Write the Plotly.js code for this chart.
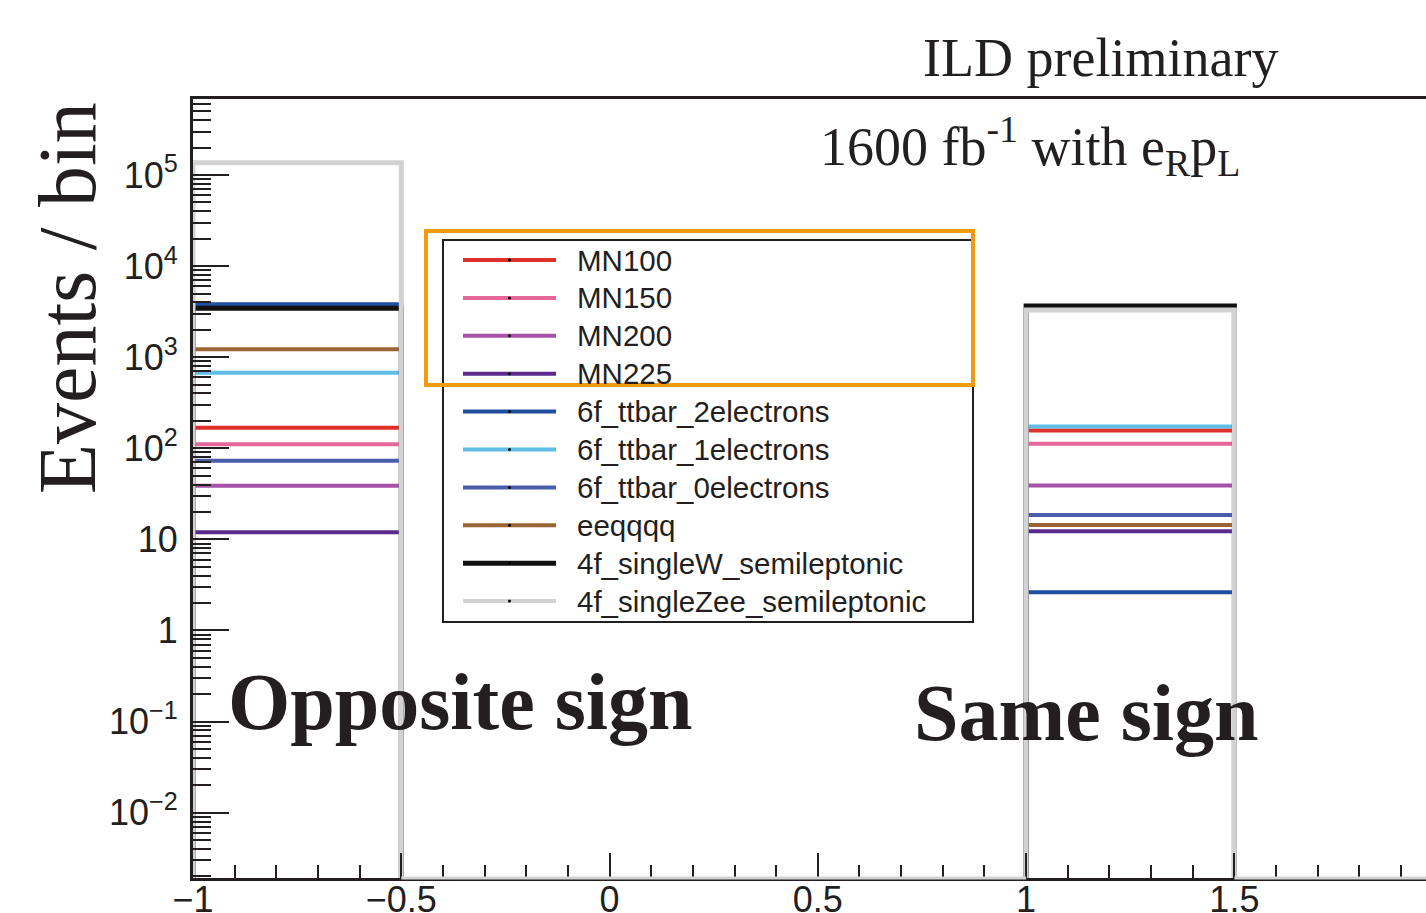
<!DOCTYPE html>
<html><head><meta charset="utf-8">
<script src="https://cdn.plot.ly/plotly-3.0.1.min.js"></script>
<style>html,body{margin:0;padding:0;background:#fff;} #chart{width:1426px;height:913px;}</style>
</head><body><div id="chart"></div>
<script>
// ---- data ----
const seriesNames = ['MN100','MN150','MN200','MN225','6f_ttbar_2electrons','6f_ttbar_1electrons','6f_ttbar_0electrons','eeqqqq','4f_singleW_semileptonic','4f_singleZee_semileptonic'];
const seriesColors = ['#df2f2a','#e5679a','#a552a8','#5a2a8c','#1e4f9e','#5fbde8','#4a5dab','#9a6532','#111111','#d2d2d2'];
const oppositeSign = [168, 111, 38.8, 12.0, 3800, 676, 73, 1220, 3440, 136000];
const sameSign     = [157, 112, 39, 12.3, 2.62, 173, 18.5, 14.4, 3650, 3300];
const binOpposite = [-1, -0.5];
const binSame = [1, 1.5];
const yTickVals = [0.01, 0.1, 1, 10, 100, 1000, 10000, 100000];
const yTickText = ['10<sup>−2</sup>','10<sup>−1</sup>','1','10','10<sup>2</sup>','10<sup>3</sup>','10<sup>4</sup>','10<sup>5</sup>'];
const xTickVals = [-1, -0.5, 0, 0.5, 1, 1.5];
const xTickText = ['−1','−0.5','0','0.5','1','1.5'];

// ---- geometry helpers ----
const W = 1426, H = 913, ML = 193, MR = 0, MT = 99, MB = 35;
const PW = W - ML - MR, PH = H - MT - MB;
const px = v => (v - ML) / PW;
const py = v => (H - MB - v) / PH;
const XMAX = 1.96;
const FLOOR = 1e-4;
const INK = '#231f20';
const lineW = i => (i === 9 ? 5 : (i === 8 ? 5 : 4));

const traces = seriesNames.map((n, i) => ({
  type: 'scatter', mode: 'lines', name: n, showlegend: false, hoverinfo: 'skip',
  x: [binOpposite[0], binOpposite[0], binOpposite[1], binOpposite[1], null,
      binSame[0], binSame[0], binSame[1], binSame[1]],
  y: [FLOOR, oppositeSign[i], oppositeSign[i], FLOOR, null,
      FLOOR, sameSign[i], sameSign[i], FLOOR],
  line: {color: seriesColors[i], width: lineW(i)}
}));

const shapes = [];
const annotations = [];

// light gray floor of the gray histogram along the bottom in empty bins
shapes.push({type:'line', xref:'x', yref:'paper', x0: binOpposite[1], x1: binSame[0], y0: 0, y1: 0,
  line:{color: seriesColors[9], width: 3}, layer:'above'});
shapes.push({type:'line', xref:'x', yref:'paper', x0: binSame[1], x1: XMAX, y0: 0, y1: 0,
  line:{color: seriesColors[9], width: 3}, layer:'above'});

// legend box
const LEG = {x0: 443, x1: 973, y0: 240, y1: 622, row0: 260, dy: 37.9, s0: 463, s1: 556, tx: 575};
shapes.push({type:'rect', xref:'paper', yref:'paper', x0: px(LEG.x0), x1: px(LEG.x1), y0: py(LEG.y1), y1: py(LEG.y0),
  line:{color: INK, width: 2}, fillcolor:'white', layer:'above'});
seriesNames.forEach((n, i) => {
  const yy = LEG.row0 + i * LEG.dy;
  shapes.push({type:'line', xref:'paper', yref:'paper', x0: px(LEG.s0), x1: px(LEG.s1), y0: py(yy), y1: py(yy),
    line:{color: seriesColors[i], width: lineW(i) - (i === 9 ? 1 : 0)}, layer:'above'});
  const cx = (LEG.s0 + LEG.s1) / 2;
  shapes.push({type:'circle', xref:'paper', yref:'paper', x0: px(cx - 1.5), x1: px(cx + 1.5), y0: py(yy + 1.5), y1: py(yy - 1.5),
    line:{color: '#000', width: 0}, fillcolor:'#000', layer:'above'});
  annotations.push({xref:'paper', yref:'paper', x: px(LEG.tx), y: py(yy), xanchor:'left', yanchor:'middle',
    text: n, showarrow:false, font:{family:'Liberation Sans, Arial, sans-serif', size: 29.5, color: INK}});
});
// orange highlight box
shapes.push({type:'rect', xref:'paper', yref:'paper', x0: px(426), x1: px(973), y0: py(385), y1: py(231),
  line:{color:'#f29a12', width: 4}, fillcolor:'rgba(0,0,0,0)', layer:'above'});

const serif = 'Liberation Serif, Times New Roman, serif';
annotations.push({xref:'paper', yref:'paper', x: px(1100), y: py(58), xanchor:'center', yanchor:'middle',
  text:'ILD preliminary', showarrow:false, font:{family: serif, size: 54, color: INK}});
annotations.push({xref:'paper', yref:'paper', x: px(1030), y: py(146), xanchor:'center', yanchor:'middle',
  text:'1600 fb<sup>-1</sup> with e<sub>R</sub>p<sub>L</sub>', showarrow:false, font:{family: serif, size: 54, color: INK}});
annotations.push({xref:'paper', yref:'paper', x: px(460), y: py(702), xanchor:'center', yanchor:'middle',
  text:'<b>Opposite sign</b>', showarrow:false, font:{family: serif, size: 80, color: INK}});
annotations.push({xref:'paper', yref:'paper', x: px(1086), y: py(713), xanchor:'center', yanchor:'middle',
  text:'<b>Same sign</b>', showarrow:false, font:{family: serif, size: 80, color: INK}});
annotations.push({xref:'paper', yref:'paper', x: px(67), y: py(298), xanchor:'center', yanchor:'middle', textangle: -90,
  text:'Events / bin', showarrow:false, font:{family: serif, size: 82, color: INK}});

const layout = {
  width: W, height: H,
  margin: {l: ML, r: MR, t: MT, b: MB, pad: 0},
  paper_bgcolor: '#fff', plot_bgcolor: '#fff',
  showlegend: false,
  xaxis: {
    range: [-1, XMAX], showgrid: false, zeroline: false,
    showline: true, linecolor: INK, linewidth: 3, mirror: true,
    ticks: 'inside', ticklen: 25, tickwidth: 2, tickcolor: INK,
    tickmode: 'array', tickvals: xTickVals, ticktext: xTickText,
    ticklabelstandoff: -12,
    tickfont: {family: 'Liberation Sans, Arial, sans-serif', size: 36, color: INK},
    minor: {ticks: 'inside', ticklen: 13, tickwidth: 2, tickcolor: INK, dtick: 0.1, tick0: 0, showgrid: false},
    fixedrange: true
  },
  yaxis: {
    type: 'log', range: [-2.717, 5.834], showgrid: false, zeroline: false,
    showline: true, linecolor: INK, linewidth: 3, mirror: false,
    ticks: 'inside', ticklen: 36, tickwidth: 2, tickcolor: INK,
    tickmode: 'array', tickvals: yTickVals, ticktext: yTickText,
    ticklabelstandoff: 5,
    tickfont: {family: 'Liberation Sans, Arial, sans-serif', size: 36, color: INK},
    minor: {ticks: 'inside', ticklen: 18, tickwidth: 2, tickcolor: INK, dtick: 'D1', showgrid: false},
    fixedrange: true
  },
  shapes: shapes,
  annotations: annotations
};

Plotly.newPlot('chart', traces, layout, {displayModeBar: false, staticPlot: true});
</script>
</body></html>
